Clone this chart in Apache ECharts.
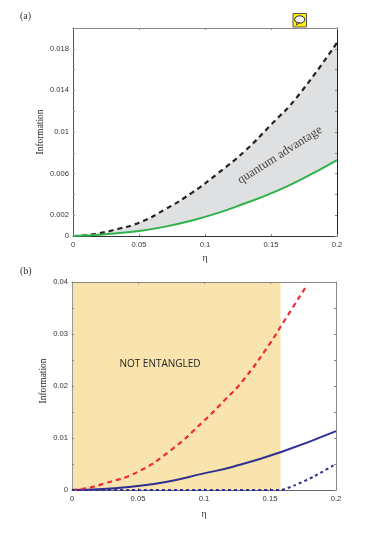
<!DOCTYPE html>
<html lang="en">
<head>
    <meta charset="UTF-8">
    <title>information vs eta</title>
    <script src="https://cdn.jsdelivr.net/npm/echarts@6/dist/echarts.min.js"></script>
    <style>
        html, body { margin: 0; padding: 0; background: #fff; }
        #chart { width: 381px; height: 537px; }
    </style>
</head>
<body>
    <div id="chart"></div>
</body>
<script type="application/javascript">
    // panel (a)
    var etaA = [0, 0.01, 0.02, 0.03, 0.05, 0.07, 0.09, 0.11, 0.13, 0.15, 0.17, 0.2];
    var upperA = [0, 0.00007, 0.00027, 0.00055, 0.00128, 0.00258, 0.00415, 0.00605, 0.00815, 0.0107, 0.0134, 0.0186];
    var lowerA = [0, 0.00004, 0.00011, 0.00022, 0.00049, 0.0009, 0.00149, 0.00222, 0.00312, 0.0041, 0.00525, 0.0073];
    var yLabelsA = [0, 0.002, 0.006, 0.01, 0.014, 0.018];

    // panel (b)
    var etaRed = [0, 0.01, 0.025, 0.05, 0.075, 0.1, 0.115, 0.13, 0.15, 0.16, 0.178];
    var red = [0, 0.0003, 0.00128, 0.00352, 0.00768, 0.0133, 0.0171, 0.0212, 0.0282, 0.0322, 0.0394];
    var etaBlue = [0, 0.02, 0.045, 0.07, 0.1, 0.122, 0.159, 0.2];
    var blue = [0, 0.00013, 0.00063, 0.00148, 0.0032, 0.00447, 0.00736, 0.01133];
    var etaDotted = [0, 0.05, 0.1, 0.15, 0.158, 0.168, 0.183, 0.2];
    var dotted = [0, 0, 0, 0, 0, 0.00083, 0.00256, 0.005];
    var entangledFrom = 0.158;
    var yLabelsB = [0, 0.01, 0.02, 0.03, 0.04];

    var xLabels = [0, 0.05, 0.1, 0.15, 0.2];

    function pairs(xs, ys) {
        return xs.map(function (x, i) { return [x, ys[i]]; });
    }

    // bottom/left carry the labels, top/right only repeat the ticks
    function xAxes(grid, lineColor, gap) {
        return [false, true].map(function (mirror) {
            return {
                type: 'value', gridIndex: grid, min: 0, max: 0.2, interval: 0.05,
                position: mirror ? 'top' : 'bottom', z: 6,
                name: mirror ? '' : 'η', nameLocation: 'middle', nameGap: gap, nameMoveOverlap: false,
                nameTextStyle: { fontFamily: 'Liberation Serif', fontSize: 10, color: '#333' },
                splitLine: { show: false },
                axisLine: { onZero: false, lineStyle: { color: mirror ? '#888' : lineColor, width: 1 } },
                axisTick: { inside: true, length: 2, lineStyle: { color: '#888' } },
                axisLabel: {
                    show: !mirror, margin: 5, fontFamily: 'Liberation Sans', fontSize: 7.6, color: '#333',
                    customValues: xLabels
                }
            };
        });
    }

    function yAxes(grid, max, interval, labels, leftColor, rightColor, gap, namePad) {
        return [false, true].map(function (mirror) {
            return {
                type: 'value', gridIndex: grid, min: 0, max: max, interval: interval,
                position: mirror ? 'right' : 'left', z: 6,
                name: mirror ? '' : 'Information', nameLocation: 'middle', nameGap: gap, nameMoveOverlap: false,
                nameTextStyle: { fontFamily: 'Liberation Serif', fontSize: 9.4, color: '#222', padding: namePad },
                splitLine: { show: false },
                axisLine: { show: true, onZero: false, lineStyle: { color: mirror ? rightColor : leftColor, width: 1 } },
                axisTick: { show: true, inside: true, length: 2, lineStyle: { color: '#888' } },
                axisLabel: {
                    show: !mirror, margin: 4, fontFamily: 'Liberation Sans', fontSize: 7.6, color: '#333',
                    customValues: labels
                }
            };
        });
    }

    function line(x, y, data, color, width, dash, z, smooth) {
        return {
            type: 'line', xAxisIndex: x, yAxisIndex: y, data: data, z: z, clip: false,
            smooth: smooth, showSymbol: false, symbol: 'none',
            lineStyle: { color: color, width: width, type: dash, cap: 'butt' }
        };
    }

    var upperFill = line(0, 0, pairs(etaA, upperA), '#dfe0e2', 0, 'solid', 1, 0.5);
    upperFill.areaStyle = { color: '#dfe0e2', opacity: 1 };
    // white area under the green curve leaves only the gap between the curves grey
    var lowerFill = line(0, 0, pairs(etaA, lowerA), '#ffffff', 0, 'solid', 2, 0.5);
    lowerFill.areaStyle = { color: '#ffffff', opacity: 1 };

    var blueSolid = line(2, 2, pairs(etaBlue, blue), '#2e3192', 2, 'solid', 7, 0.5);
    blueSolid.markArea = {
        silent: true,
        itemStyle: { color: '#f9e4ad' },
        data: [[{ xAxis: 0, yAxis: 0 }, { xAxis: entangledFrom, yAxis: 0.04 }]]
    };

    var option = {
        animation: false,
        backgroundColor: '#fff',
        grid: [
            { left: 73, top: 28, width: 264, height: 208 },
            { left: 72, top: 282, width: 264, height: 208 }
        ],
        xAxis: xAxes(0, '#333', 17).concat(xAxes(1, '#666', 19)),
        yAxis: yAxes(0, 0.02, 0.002, yLabelsA, '#555', '#222', 28, [0, 0, 0, 0])
            .concat(yAxes(1, 0.04, 0.005, yLabelsB, '#999', '#888', 24, [0, 0, 0, 10])),
        series: [
            upperFill,
            lowerFill,
            line(0, 0, pairs(etaA, upperA), '#222', 2.2, [5, 4], 7, 0.5),
            line(0, 0, pairs(etaA, lowerA), '#30b24b', 2, 'solid', 7, 0.5),
            blueSolid,
            line(2, 2, pairs(etaRed, red), '#ee2a3c', 2.2, [5, 4], 8, 0.5),
            line(2, 2, pairs(etaDotted, dotted), '#2e3192', 2, [3, 3], 8, 0.2)
        ],
        graphic: [
            { type: 'text', left: 20, top: 11, style: { text: '(a)', font: '10px "Liberation Serif"', fill: '#333' } },
            { type: 'text', left: 20, top: 266, style: { text: '(b)', font: '10px "Liberation Serif"', fill: '#333' } },
            {
                type: 'text', x: 280, y: 155, rotation: 32.4 * Math.PI / 180,
                style: {
                    text: 'quantum advantage', font: '12.5px "Liberation Serif"', fill: '#444',
                    align: 'center', verticalAlign: 'middle'
                }, z: 10
            },
            {
                type: 'text', x: 160, y: 364,
                style: {
                    text: 'NOT ENTANGLED', font: '10px "Open Sans"', fill: '#222',
                    align: 'center', verticalAlign: 'middle'
                }, z: 10
            },
            // note icon sitting on top of panel (a)
            { type: 'rect', shape: { x: 293, y: 13.5, width: 13.5, height: 13.5 }, style: { fill: '#ffee00', stroke: '#555', lineWidth: 1 }, z: 10 },
            { type: 'ellipse', shape: { cx: 299.7, cy: 19.5, rx: 5, ry: 3.7 }, style: { fill: '#fff', stroke: '#222', lineWidth: 1 }, z: 11 },
            { type: 'polygon', shape: { points: [[297, 22], [299.5, 22.5], [296.5, 25]] }, style: { fill: '#fff', stroke: '#222', lineWidth: 0.8 }, z: 11 }
        ]
    };

    echarts.init(document.getElementById('chart')).setOption(option);
</script>
</html>
